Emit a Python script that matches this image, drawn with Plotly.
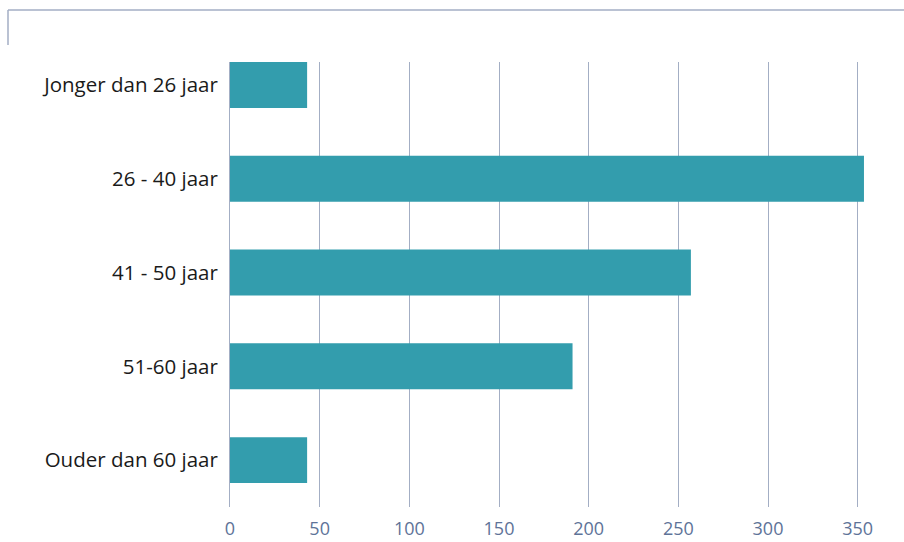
import plotly.graph_objects as go

categories = ["Jonger dan 26 jaar", "26 - 40 jaar", "41 - 50 jaar", "51-60 jaar", "Ouder dan 60 jaar"]
values = [43, 353.5, 257, 191, 43]
x_ticks = [0, 50, 100, 150, 200, 250, 300, 350]

W, H = 904, 542
L, R, T, B = 230, 0, 62, 35
ph = H - T - B
pw = W - L - R

def py(y):
    return (H - B - y) / ph

def px(x):
    return (x - L) / pw

fig = go.Figure(go.Bar(
    y=categories, x=values, orientation="h",
    marker=dict(color="#339dad", line=dict(width=0)),
    width=0.49,
))

fig.update_layout(
    width=W, height=H,
    margin=dict(l=L, r=R, t=T, b=B, pad=0),
    plot_bgcolor="white", paper_bgcolor="white",
    showlegend=False,
    font=dict(family="Open Sans", size=16, color="#1a1a1a"),
    xaxis=dict(
        range=[0, pw / 1.7934], tickvals=x_ticks, showgrid=True,
        gridcolor="#a3aec4", gridwidth=1, zeroline=False, showline=False,
        tickfont=dict(family="Open Sans", size=18, color="#5e7398"),
        ticklabelstandoff=9,
    ),
    yaxis=dict(
        categoryorder="array", categoryarray=categories,
        range=[4.5, -0.245], showgrid=False, zeroline=False,
        showline=True, linecolor="#a3aec4", linewidth=1,
        tickfont=dict(family="Open Sans", size=20.5, color="#1a1a1a"),
        ticklabelstandoff=7,
    ),
    shapes=[
        dict(type="line", xref="paper", yref="paper", x0=px(8), x1=1.0, y0=py(10), y1=py(10),
             line=dict(color="#a3aec4", width=1.5)),
        dict(type="line", xref="paper", yref="paper", x0=px(8), x1=px(8), y0=py(10), y1=py(45),
             line=dict(color="#a3aec4", width=1.5)),
    ],
)

fig.write_html("out.html")
